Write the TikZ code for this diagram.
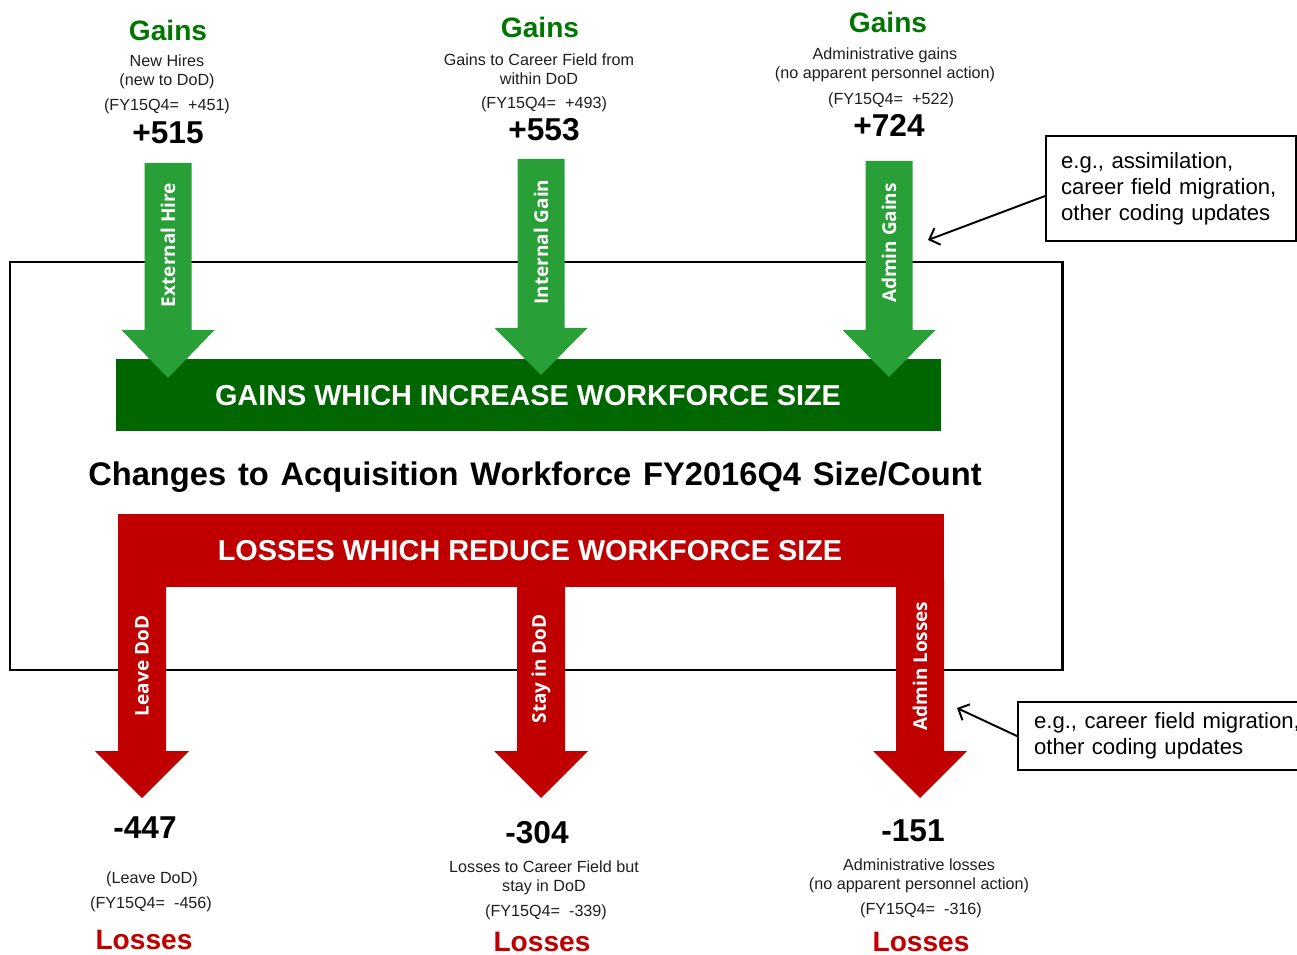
\documentclass[tikz,border=0pt]{standalone}
\usepackage{fontspec}
\setmainfont{Liberation Sans}
\newfontfamily\lblfont{Open Sans}
\usetikzlibrary{arrows.meta}
\definecolor{gainsgreen}{RGB}{0,118,0}
\definecolor{bargreen}{RGB}{0,102,0}
\definecolor{arrowgreen}{RGB}{40,160,55}
\definecolor{lossred}{RGB}{192,0,0}
\definecolor{txtgray}{RGB}{30,30,30}
\begin{document}
\begin{tikzpicture}[x=0.02cm,y=-0.02cm,
  head/.style={font=\fontsize{16}{18}\selectfont\bfseries, inner sep=0pt},
  gainhead/.style={head, text=gainsgreen},
  losshead/.style={head, text=lossred},
  smalltxt/.style={font=\fontsize{9.2}{10.8}\selectfont, text=txtgray, align=center, inner sep=0pt},
  bignum/.style={font=\fontsize{18}{20}\selectfont\bfseries, inner sep=0pt},
  arrlabel/.style={font=\lblfont\bfseries\fontsize{10.8}{12}\selectfont, text=white, rotate=90, inner sep=0pt},
  bartext/.style={font=\fontsize{16.4}{18}\selectfont\bfseries, text=white, inner sep=0pt},
  titletxt/.style={font=\fontsize{18.6}{20}\selectfont\bfseries, inner sep=0pt},
  callout/.style={draw, line width=1.2pt, anchor=north west, align=left,
    font=\fontsize{12.6}{14.8}\selectfont, inner ysep=0pt},
  callarrow/.style={line width=1.1pt, -{Straight Barb[length=5pt,width=10pt]}},
]
\useasboundingbox (0,0) rectangle (1297,955);
\clip (0,0) rectangle (1297,955);

% outer frame
\draw[line width=1.7pt] (10,262) rectangle (1062,670);

% gains bar
\fill[bargreen] (116,359) rectangle (941,431);
\node[bartext] (gbar) at (528,396) {GAINS WHICH INCREASE WORKFORCE SIZE};

% green arrows
\foreach \cx/\tp/\hs/\tip in {168/163/330/378, 541/159/328/375, 889/161/330/377}
  \fill[arrowgreen] (\cx-23.5,\tp) -- (\cx+23.5,\tp) -- (\cx+23.5,\hs) -- (\cx+46.5,\hs)
     -- (\cx,\tip) -- (\cx-46.5,\hs) -- (\cx-23.5,\hs) -- cycle;
\node[arrlabel] (a1) at (168,245) {External Hire};
\node[arrlabel] (a2) at (541,242) {Internal Gain};
\node[arrlabel] (a3) at (889,243) {Admin Gains};

% title
\node[titletxt] (title) at (535,477) {\spaceskip=0.36em\relax Changes to Acquisition Workforce FY2016Q4 Size/Count};

% losses bar and red arrows
\fill[lossred] (118,514) rectangle (944,587);
\foreach \cx in {142, 541, 920}
  \fill[lossred] (\cx-24,580) -- (\cx+24,580) -- (\cx+24,751) -- (\cx+47,751)
     -- (\cx,798) -- (\cx-47,751) -- (\cx-24,751) -- cycle;
\node[bartext] (lbar) at (530,551) {LOSSES WHICH REDUCE WORKFORCE SIZE};
\node[arrlabel] (l1) at (142,666) {Leave DoD};
\node[arrlabel] (l2) at (541,669) {Stay in DoD};
\node[arrlabel] (l3) at (920,666) {Admin Losses};

% top texts
\node[gainhead] (g1) at (168,30) {Gains};
\node[smalltxt] (g1a) at (167,72) {New Hires\\(new to DoD)};
\node[smalltxt] (g1b) at (167,106) {(FY15Q4=\ \ +451)};
\node[bignum] (g1c) at (168,133) {+515};

\node[gainhead] (g2) at (540,27) {Gains};
\node[smalltxt] (g2a) at (539,69) {Gains to Career Field from\\within DoD};
\node[smalltxt] (g2b) at (544,104) {(FY15Q4=\ \ +493)};
\node[bignum] (g2c) at (544,130) {+553};

\node[gainhead] (g3) at (888,22) {Gains};
\node[smalltxt] (g3a) at (885,65) {Administrative gains\\(no apparent personnel action)};
\node[smalltxt] (g3b) at (891,100) {(FY15Q4=\ \ +522)};
\node[bignum] (g3c) at (889,125) {+724};

% bottom texts
\node[bignum] (b1c) at (145,828) {-447};
\node[smalltxt] (b1a) at (152,879) {(Leave DoD)};
\node[smalltxt] (b1b) at (151,904) {(FY15Q4=\ \ -456)};
\node[losshead] (b1) at (144,940) {Losses};

\node[bignum] (b2c) at (537,833) {-304};
\node[smalltxt] (b2a) at (544,878) {Losses to Career Field but\\stay in DoD};
\node[smalltxt] (b2b) at (546,912) {(FY15Q4=\ \ -339)};
\node[losshead] (b2) at (542,942) {Losses};

\node[bignum] (b3c) at (913,831) {-151};
\node[smalltxt] (b3a) at (919,876) {Administrative losses\\(no apparent personnel action)};
\node[smalltxt] (b3b) at (921,910) {(FY15Q4=\ \ -316)};
\node[losshead] (b3) at (921,942) {Losses};

% callouts
\node[callout, minimum height=2.1cm, text width=4.4cm, inner xsep=0.3cm] (note1) at (1045,135)
  {e.g., assimilation,\\career field migration,\\other coding updates};
\coordinate (t1) at (928,240);
\draw[callarrow] ([yshift=-0.15cm]note1.west) -- (t1);

\node[callout, minimum height=1.36cm, text width=5.4cm, inner xsep=0.32cm] (note2) at (1017,701)
  {e.g., career field migration,\\other coding updates};
\coordinate (t2) at (957,708);
\draw[callarrow] (note2.west) -- (t2);
\end{tikzpicture}
\end{document}
